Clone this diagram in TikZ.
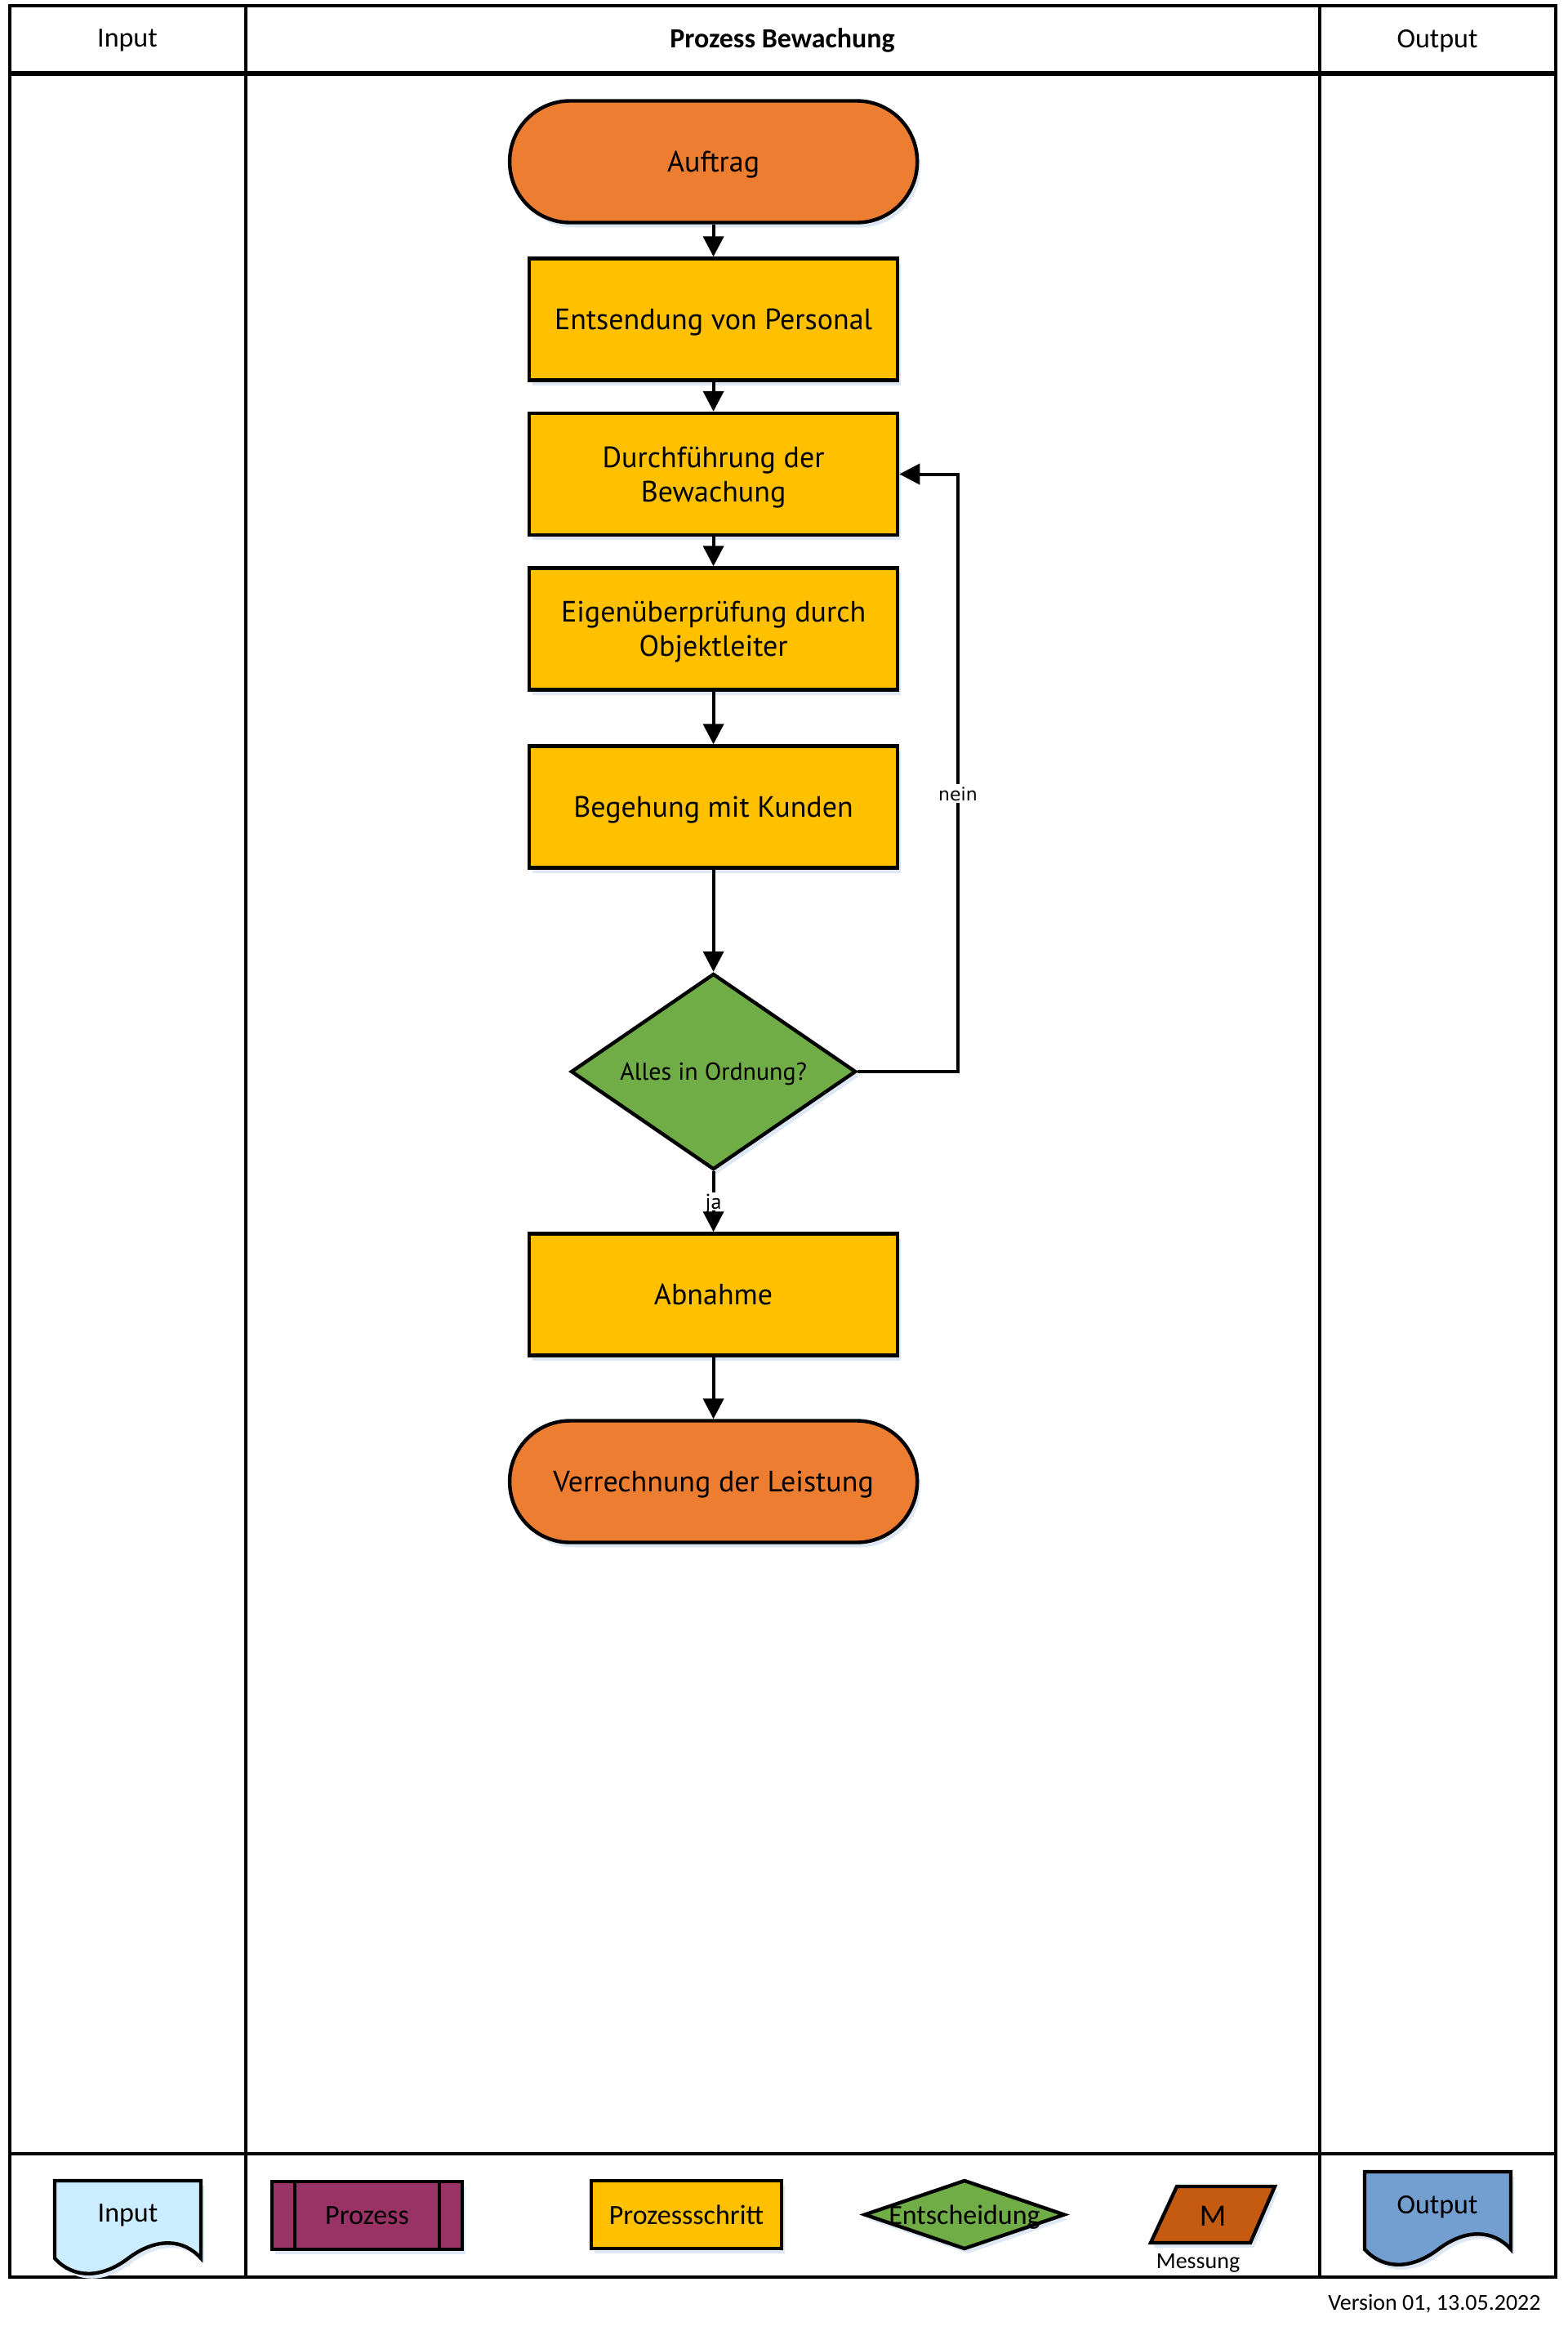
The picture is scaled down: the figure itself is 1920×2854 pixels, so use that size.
\documentclass[tikz,border=0pt]{standalone}
\usepackage{fontspec}
\setmainfont{Carlito}
\newfontfamily\nodefont{PT Sans}
\newfontfamily\labfont{DejaVu Sans}
\usetikzlibrary{arrows.meta,shapes.geometric,shadows}
\definecolor{termorange}{HTML}{ED7D31}
\definecolor{stepyellow}{HTML}{FFC000}
\definecolor{decgreen}{HTML}{70AD47}
\definecolor{procpurple}{HTML}{993366}
\definecolor{inblue}{HTML}{CCECFF}
\definecolor{outblue}{HTML}{729FCF}
\definecolor{measorange}{HTML}{C55A11}
\definecolor{shadowblue}{HTML}{DDE8F4}
\begin{document}
\begin{tikzpicture}[x=0.5pt,y=-0.5pt,
  shade/.style={drop shadow={shadow xshift=2pt,shadow yshift=-3pt,fill=shadowblue,opacity=1}},
  frame/.style={line width=2.4pt,draw=black},
  hdr/.style={font=\fontsize{17}{20}\selectfont,text depth=0pt},
  term/.style={rectangle,rounded corners=37pt,draw,line width=2.2pt,fill=termorange,
    minimum width=249.5pt,minimum height=74.5pt,align=center,text depth=0pt,
    font=\nodefont\fontsize{18}{21}\selectfont,shade},
  stepbox/.style={rectangle,draw,line width=2.2pt,fill=stepyellow,
    minimum width=225.5pt,minimum height=74.5pt,align=center,text depth=0pt,
    font=\nodefont\fontsize{18}{21}\selectfont,shade},
  decision/.style={diamond,aspect=1.45,inner sep=0pt,draw,line width=2.2pt,fill=decgreen,
    minimum width=174.5pt,minimum height=120pt,text depth=0pt,
    font=\nodefont\fontsize{15}{18}\selectfont,shade},
  conn/.style={line width=2pt,-{Triangle[width=12.5pt,length=12.5pt]}},
  lab/.style={fill=white,inner sep=1.5pt,font=\labfont\fontsize{11}{13}\selectfont},
  jalab/.style={fill=white,inner sep=1pt,text depth=0pt,font=\nodefont\fontsize{13}{15}\selectfont},
  legline/.style={line width=2.2pt,draw=black},
  legtext/.style={font=\fontsize{17}{20}\selectfont,inner sep=0pt,text depth=0pt},
  legbox/.style={rectangle,draw,line width=2.2pt,minimum width=116.5pt,minimum height=41.5pt,
    inner sep=0pt,text depth=0pt,font=\fontsize{17}{20}\selectfont,shade}
]
\useasboundingbox (0,0) rectangle (1920,2854);
\fill[white] (0,0) rectangle (1920,2854);

% frame and lanes
\draw[frame] (12,7) rectangle (1905,2788);
\draw[line width=2.6pt] (12,90) -- (1905,90);
\draw[frame] (301,7) -- (301,2788);
\draw[frame] (1616,7) -- (1616,2788);
\draw[frame] (12,2637) -- (1905,2637);

\node[hdr] (hin) at (156,47) {Input};
\node[hdr,font=\bfseries\fontsize{17}{20}\selectfont] (hproc) at (958,47) {Prozess Bewachung};
\node[hdr] (hout) at (1760,47) {Output};

% flow
\node[term] (auftrag) at (873.6,198) {Auftrag};
\node[stepbox] (entsend) at (873.6,391) {Entsendung von Personal};
\node[stepbox] (durch) at (873.6,580.5) {Durchführung der\\Bewachung};
\node[stepbox] (eigen) at (873.6,770) {Eigenüberprüfung durch\\Objektleiter};
\node[stepbox] (begeh) at (873.6,988) {Begehung mit Kunden};
\node[decision] (dec) at (873.6,1312) {Alles in Ordnung?};
\node[stepbox] (abn) at (873.6,1585) {Abnahme};
\node[term] (verr) at (873.6,1814) {Verrechnung der Leistung};

\coordinate (loopbot) at (1173,1312);
\coordinate (looptop) at (1173,580.5);

\draw[conn] (auftrag) -- (entsend);
\draw[conn] (entsend) -- (durch);
\draw[conn] (durch) -- (eigen);
\draw[conn] (eigen) -- (begeh);
\draw[conn] (begeh) -- (dec);
\draw[conn] (dec) -- node[jalab,pos=0.5] (ja) {ja} (abn);
\draw[conn] (abn) -- (verr);
\draw[conn] (dec.east) -- (loopbot) -- node[lab,pos=0.465] (nein) {nein} (looptop) -- (durch.east);

% legend
\draw[legline,fill=inblue,shade] (67,2670) -- (246,2670) -- (246,2765)
  .. controls (224,2740) and (190,2740) .. (157,2765)
  .. controls (124,2790) and (90,2790) .. (67,2765) -- cycle;
\node[legtext] (lin) at (156.5,2710) {Input};

\node[legbox,fill=procpurple] (lproc) at (449.5,2712.5) {Prozess};
\draw[line width=2.2pt] ([xshift=15pt]lproc.north west) -- ([xshift=15pt]lproc.south west);
\draw[line width=2.2pt] ([xshift=-15pt]lproc.north east) -- ([xshift=-15pt]lproc.south east);

\node[legbox,fill=stepyellow] (lstep) at (840.5,2711.5) {Prozessschritt};

\draw[legline,fill=decgreen,shade] (1059,2711.5) -- (1181,2670) -- (1303,2711.5) -- (1181,2753) -- cycle;
\node[legtext] (ldec) at (1181,2712) {Entscheidung};

\draw[legline,fill=measorange,shade] (1441,2677) -- (1561,2677) -- (1531,2746) -- (1409,2746) -- cycle;
\node[legtext,font=\fontsize{19}{22}\selectfont] (lm) at (1485,2713) {M};
\node[legtext,font=\fontsize{14}{16}\selectfont] (lmess) at (1467,2768) {Messung};

\draw[legline,fill=outblue,shade,shift={(1604,-11)}] (67,2670) -- (246,2670) -- (246,2765)
  .. controls (224,2740) and (190,2740) .. (157,2765)
  .. controls (124,2790) and (90,2790) .. (67,2765) -- cycle;
\node[legtext] (lout) at (1760,2699) {Output};

\node[anchor=east,inner sep=0pt,font=\fontsize{14}{16}\selectfont] (ver) at (1887,2821) {Version 01, 13.05.2022};
\end{tikzpicture}
\end{document}
